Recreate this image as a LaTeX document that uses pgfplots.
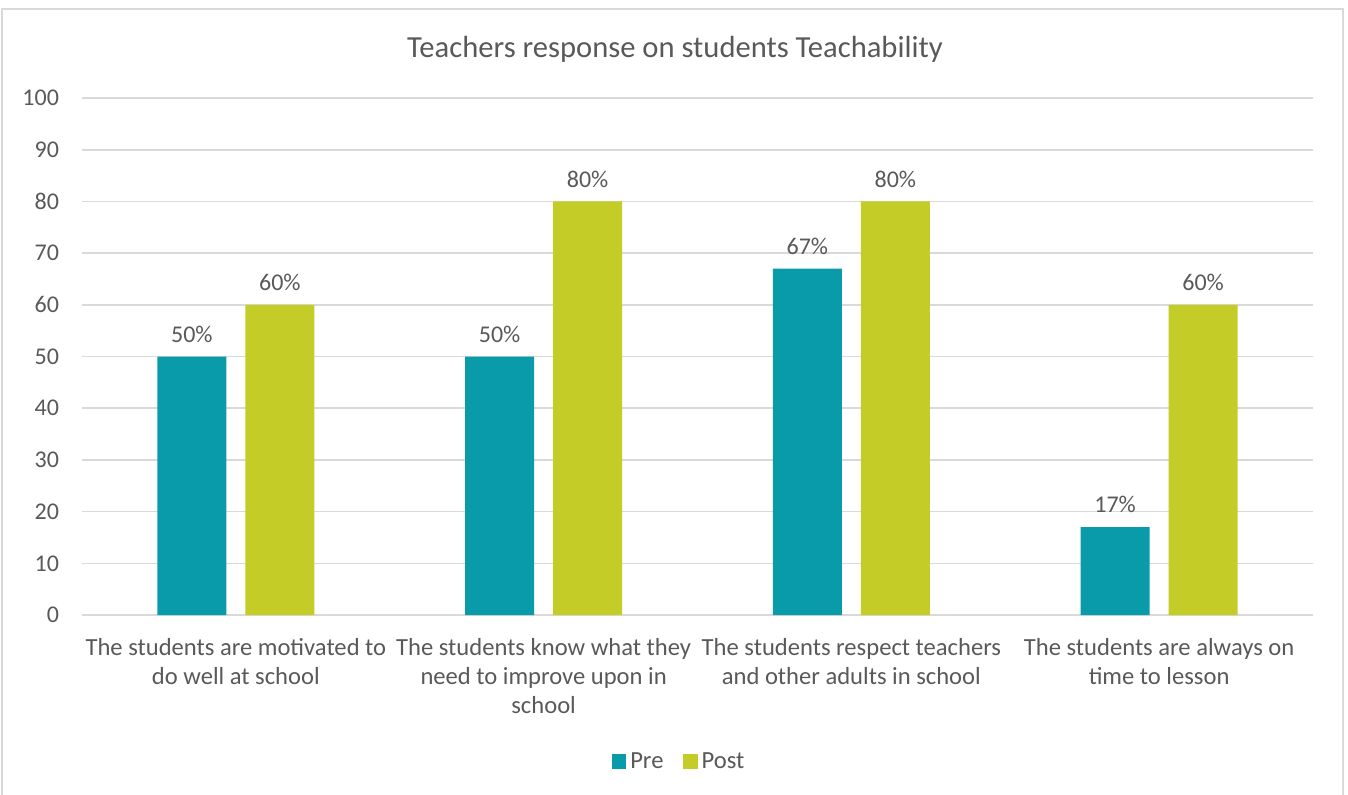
\documentclass[border=0pt]{standalone}
\usepackage{pgfplots}
\pgfplotsset{compat=1.18}
\usepackage{fontspec}
\setmainfont{Carlito}
\definecolor{pre}{HTML}{0A9BAA}
\definecolor{post}{HTML}{C4CC28}
\definecolor{txt}{HTML}{595959}
\definecolor{gridc}{HTML}{D9D9D9}
\def\px{0.5pt}
\begin{document}
\begin{tikzpicture}
\useasboundingbox ({-82*\px},{-179*\px}) rectangle ({1266*\px},{615*\px});
\draw[color=gridc, line width=1pt] ({-80*\px},{-180*\px}) -- ({-80*\px},{606*\px}) -- ({1261*\px},{606*\px}) -- ({1261*\px},{-180*\px});
\node[text=txt, font=\fontsize{15.3}{18}\selectfont] at ({593*\px},{566*\px}) {Teachers response on students Teachability};
\begin{axis}[
  at={(0,0)}, anchor=south west,
  scale only axis, width=615.5pt, height=258.5pt,
  xmin=-0.5, xmax=3.5, ymin=0, ymax=100,
  ytick={0,10,...,100},
  xtick={0,1,2,3},
  xticklabels={{The students are motivated to\\do well at school},{The students know what they\\need to improve upon in\\school},{The students respect teachers\\and other adults in school},{The students are always on\\time to lesson}},
  ymajorgrids, grid style={gridc, line width=0.8pt},
  axis line style={draw=none},
  major tick length=0pt,
  ybar=9.5pt, bar width=34.5pt,
  /pgf/number format/assume math mode=true,
  tick label style={text=txt, font=\fontsize{12}{14}\selectfont},
  yticklabel style={xshift=-8pt},
  xticklabel style={align=center, font=\fontsize{12.3}{14.5}\selectfont, yshift=-8pt},
  nodes near coords={\pgfmathprintnumber{\pgfplotspointmeta}\%},
  nodes near coords style={text=txt, font=\fontsize{12}{14}\selectfont, yshift=3.5pt},
  legend style={at={(0.486,-0.284)}, anchor=center, draw=none, legend columns=2, font=\fontsize{12.3}{14}\selectfont, text=txt, /tikz/every even column/.append style={column sep=8pt}},
  legend image code/.code={\fill[#1] (0cm,-0.12cm) rectangle (0.25cm,0.13cm);},
]
\addplot[fill=pre, draw=none] coordinates {(0,50) (1,50) (2,67) (3,17)};
\addplot[fill=post, draw=none] coordinates {(0,60) (1,80) (2,80) (3,60)};
\legend{Pre,Post}
\end{axis}
\end{tikzpicture}
\end{document}
